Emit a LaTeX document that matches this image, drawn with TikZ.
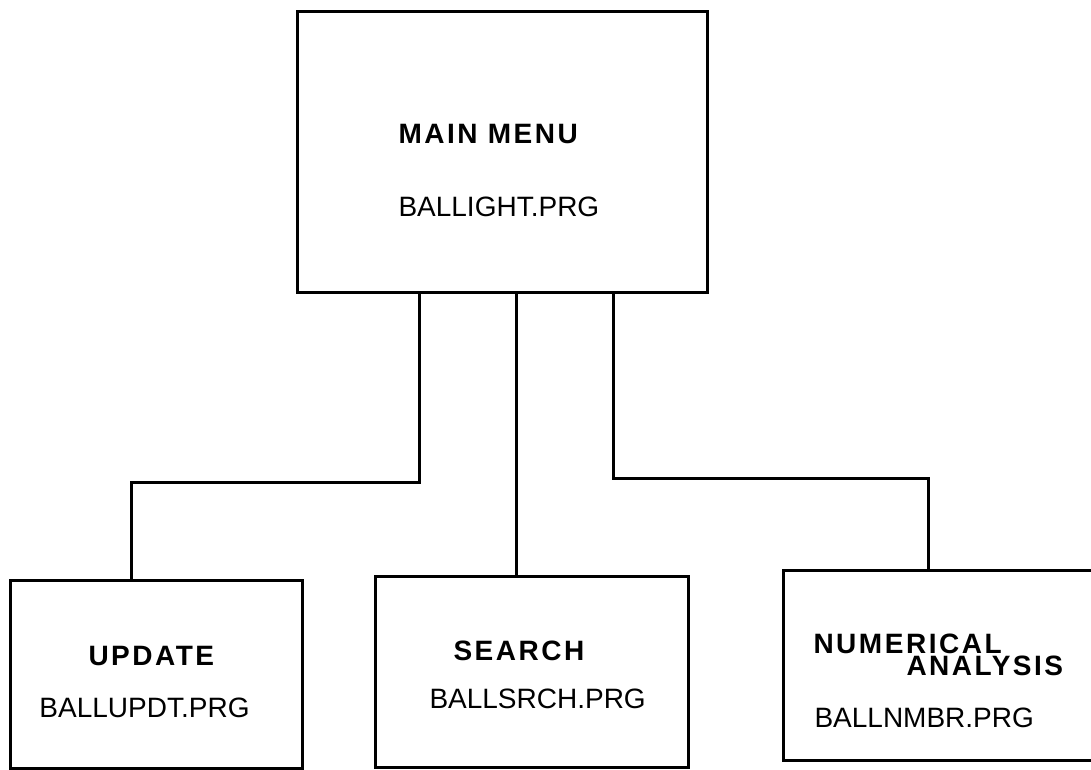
\documentclass[tikz,border=0pt]{standalone}
\usepackage{fontspec}
\setmainfont{Liberation Sans}
\newfontfamily\titlefont[LetterSpace=9]{Liberation Sans Bold}
\begin{document}
\begin{tikzpicture}[x=0.5pt,y=-0.5pt,
  box/.style={draw,line width=1.5pt,inner sep=0pt},
  title/.style={anchor=base west,inner sep=0pt,font=\titlefont\fontsize{14}{16}\selectfont},
  prg/.style={anchor=base west,inner sep=0pt,font=\fontsize{14}{16}\selectfont},
  line width=1.5pt]
  \useasboundingbox (0,0) rectangle (1091,770);
  \clip (0,0) rectangle (1091,770);
  % boxes
  \node[box,minimum width=205pt,minimum height=140pt] (main) at (502,152) {};
  \node[box,minimum width=146pt,minimum height=94pt] (upd) at (156,674) {};
  \node[box,minimum width=156.5pt,minimum height=95.5pt] (srch) at (531.5,671.5) {};
  \node[box,minimum width=168.5pt,minimum height=95pt] (nmbr) at (951.5,665) {};
  % texts
  \node[title] (mainT) at (397,144) {MAIN MENU};
  \node[prg] (mainP) at (397,217) {BALLIGHT.PRG};
  \node[title] (updT) at (87,665) {UPDATE};
  \node[prg] (updP) at (38,717) {BALLUPDT.PRG};
  \node[title] (srchT) at (452,660) {SEARCH};
  \node[prg] (srchP) at (428,708) {BALLSRCH.PRG};
  \node[title] (nmbrT) at (812,653) {NUMERICAL};
  \node[title] (nmbrA) at (905,675) {ANALYSIS};
  \node[prg] (nmbrP) at (813,727) {BALLNMBR.PRG};
  % connectors
  \draw (main.south -| 419,0) |- (131,482) -- (upd.north -| 131,0);
  \draw (main.south -| 516,0) -- (srch.north -| 516,0);
  \draw (main.south -| 613,0) |- (928,478) -- (nmbr.north -| 928,0);
\end{tikzpicture}
\end{document}
